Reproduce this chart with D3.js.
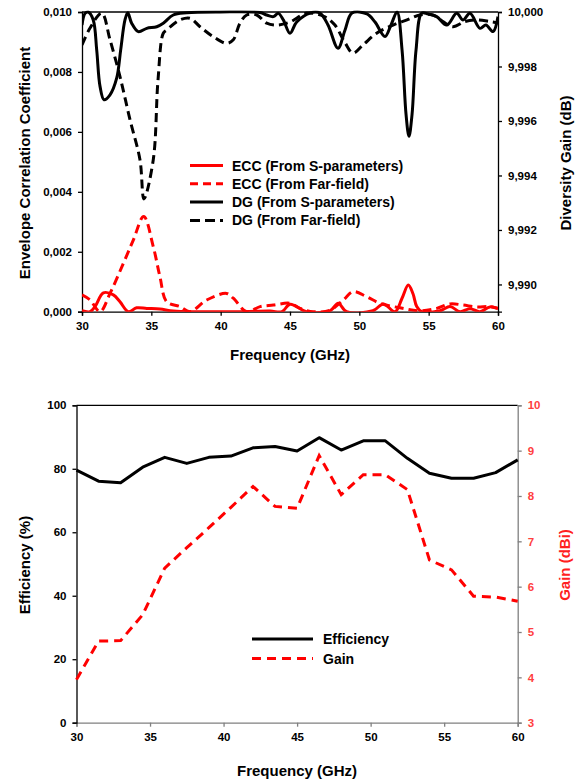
<!DOCTYPE html>
<html>
<head>
<meta charset="utf-8">
<script src="https://cdn.jsdelivr.net/npm/d3@7"></script>
<style>
  body { margin: 0; background: #fff; }
  svg { display: block; font-family: "Liberation Sans", Arial, sans-serif; font-weight: bold; }
</style>
</head>
<body>
<svg id="chart" width="577" height="783"></svg>
<script>
// ---- top chart data (frequency in GHz) ----
var eccSFreq = [30, 30.58, 30.94, 31.54, 32.26, 32.74, 33.34, 33.94, 34.67, 35.62, 36.58, 38.51, 41.39, 43.56, 44.42, 45.0, 46.2, 47.88, 48.48, 49.08, 50.98, 51.73, 52.57, 53.08, 53.53, 53.87, 54.14, 54.5, 55.82, 56.54, 57.26, 57.98, 58.7, 59.42, 60];
var eccS = [0.00003, 0.0, 0.00017, 0.00063, 0.00056, 0.00033, 0.0, 0.00013, 0.00011, 0.00009, 0.00002, 0.0, 0.0, 0.00002, 0.0, 0.00025, 0.0, 0.00003, 0.00028, 0.0, 0.00003, 0.00026, 0.0, 0.00045, 0.00089, 0.0006, 0.00017, 0.0, 0.00003, 0.00017, 0.0, 0.0001, 0.0, 0.00016, 0.0001];

var eccFFreq = [30, 30.58, 31.3, 32.02, 32.98, 33.7, 34.45, 35.14, 35.62, 36.11, 37.07, 37.79, 38.99, 40.43, 40.91, 41.88, 42.84, 43.8, 45.0, 45.72, 46.68, 47.88, 48.84, 49.56, 50.53, 51.49, 52.93, 54.37, 55.58, 56.54, 57.5, 58.46, 59.42, 60];
var eccF = [0.00056, 0.00039, 0.0, 0.00061, 0.00161, 0.00239, 0.00318, 0.00217, 0.00117, 0.00033, 0.00017, 0.0, 0.00039, 0.00061, 0.00045, 0.0, 0.00017, 0.00022, 0.00028, 0.00011, 0.0, 0.00005, 0.00039, 0.00067, 0.0005, 0.00028, 0.00013, 0.00003, 0.00011, 0.00026, 0.00022, 0.00016, 0.00017, 0.00011];

var dgSFreq = [30, 30.22, 30.45, 30.81, 31.06, 31.3, 31.59, 32.02, 32.5, 32.79, 33.1, 33.3, 33.58, 34.06, 34.67, 35.39, 35.86, 36.58, 37.55, 39.95, 42.84, 43.32, 43.8, 44.16, 44.52, 45.0, 45.48, 46.44, 47.16, 47.74, 48.46, 48.97, 49.47, 50.55, 51.13, 51.85, 52.28, 52.72, 53.08, 53.37, 53.58, 53.8, 54.09, 54.5, 54.95, 55.58, 56.3, 57.02, 57.48, 57.98, 58.7, 59.13, 59.64, 60];
var dgS = [9.99952, 9.99995, 10.0, 9.99971, 9.99861, 9.99727, 9.99678, 9.99696, 9.99757, 9.99861, 9.99971, 9.99997, 9.99959, 9.99928, 9.9994, 9.99946, 9.99959, 9.99989, 9.99997, 10.0, 9.99998, 9.99989, 9.99983, 9.99995, 9.99971, 9.99922, 9.99963, 9.99996, 9.99996, 9.99952, 9.99867, 9.99934, 9.99996, 9.99993, 9.99963, 9.9991, 9.99952, 10.0, 9.99861, 9.99623, 9.99544, 9.99623, 9.99861, 9.99996, 9.99993, 9.99983, 9.99952, 9.99995, 9.99971, 9.99995, 9.9994, 9.99952, 9.99928, 9.99983];

var dgFFreq = [30, 30.58, 31.42, 32.02, 32.74, 33.46, 34.18, 34.47, 35.14, 35.48, 35.86, 36.11, 37.07, 37.79, 38.51, 39.45, 40.43, 40.91, 41.39, 41.88, 42.6, 43.32, 44.04, 45.0, 46.23, 47.52, 48.24, 48.97, 49.54, 50.26, 51.27, 52.43, 53.44, 54.37, 55.31, 56.03, 56.75, 57.62, 58.48, 59.42, 60];
var dgF = [9.99879, 9.99941, 9.99996, 9.99898, 9.99763, 9.99605, 9.99458, 9.99314, 9.99458, 9.99749, 9.99922, 9.99934, 9.99971, 9.99977, 9.99946, 9.9991, 9.99885, 9.99898, 9.99959, 9.99989, 9.99989, 9.99959, 9.99952, 9.99963, 9.99996, 9.99982, 9.99952, 9.99887, 9.99849, 9.99879, 9.99923, 9.99952, 9.99971, 9.99989, 9.99989, 9.99965, 9.99946, 9.99965, 9.99971, 9.99965, 9.9996];

var freqTicks = [30, 35, 40, 45, 50, 55, 60];
var eccTicks = [0, 0.002, 0.004, 0.006, 0.008, 0.010];
var dgTicks = [9.990, 9.992, 9.994, 9.996, 9.998, 10.000];
var topLegend = ["ECC (From S-parameters)", "ECC (From Far-field)", "DG (From S-parameters)", "DG (From Far-field)"];

// ---- bottom chart data ----
var effFreq = [30, 31.5, 33, 34.5, 36, 37.5, 39, 40.5, 42, 43.5, 45, 46.5, 48, 49.5, 51, 52.5, 54, 55.5, 57, 58.5, 60];
var efficiency = [79.6, 76.1, 75.6, 80.5, 83.6, 81.7, 83.6, 84.0, 86.6, 87.0, 85.6, 89.8, 85.9, 88.8, 88.8, 83.3, 78.6, 77.0, 77.0, 78.8, 82.8];
var gain = [3.95, 4.8, 4.81, 5.38, 6.41, 6.86, 7.3, 7.75, 8.21, 7.77, 7.73, 8.89, 8.03, 8.47, 8.47, 8.14, 6.59, 6.37, 5.79, 5.77, 5.68];
var effTicks = [0, 20, 40, 60, 80, 100];
var gainTicks = [3, 4, 5, 6, 7, 8, 9, 10];
var bottomLegend = ["Efficiency", "Gain"];

var svg = d3.select("#chart");
var comma = function(f) { return function(d) { return d3.format(f)(d).replace(".", ","); }; };

function styleAxis(g, color, textColor) {
  g.select(".domain").attr("stroke", color).attr("stroke-width", 1.3);
  g.selectAll(".tick line").attr("stroke", color).attr("stroke-width", 1.3);
  g.selectAll(".tick text").attr("fill", textColor).style("font-size", "11.5px").style("font-weight", "bold").style("font-family", "Liberation Sans, Arial, sans-serif");
}

// ================= TOP =================
var t = {left: 82, right: 498, top: 12, bottom: 311.7};
var x1 = d3.scaleLinear().domain([30, 60]).range([t.left, t.right]);
var yEcc = d3.scaleLinear().domain([0, 0.010]).range([t.bottom, t.top]);
var yDg = d3.scaleLinear().domain([9.989, 10.000]).range([t.bottom, t.top]);

svg.append("clipPath").attr("id", "clipTop").append("rect")
  .attr("x", t.left).attr("y", t.top - 1.5).attr("width", t.right - t.left).attr("height", t.bottom - t.top + 1.5);

svg.append("line").attr("x1", t.left).attr("x2", t.right).attr("y1", t.top).attr("y2", t.top)
  .attr("stroke", "#000").attr("stroke-width", 1.3);

var gx1 = svg.append("g").attr("transform", "translate(0," + t.bottom + ")")
  .call(d3.axisBottom(x1).tickValues(freqTicks).tickSize(4).tickPadding(6).tickFormat(d3.format("d")));
styleAxis(gx1, "#000", "#000");
var gy1 = svg.append("g").attr("transform", "translate(" + t.left + ",0)")
  .call(d3.axisLeft(yEcc).tickValues(eccTicks).tickSize(4).tickPadding(6).tickFormat(comma(".3f")));
styleAxis(gy1, "#000", "#000");
var gy1r = svg.append("g").attr("transform", "translate(" + t.right + ",0)")
  .call(d3.axisRight(yDg).tickValues(dgTicks).tickSize(4).tickPadding(6).tickFormat(comma(".3f")));
styleAxis(gy1r, "#000", "#000");

function curveLine(xs, ys, xScale, yScale) {
  var pts = xs.map(function(d, i) { return [d, ys[i]]; });
  return d3.line().x(function(d) { return xScale(d[0]); }).y(function(d) { return yScale(d[1]); })
    .curve(d3.curveCatmullRom.alpha(0.5))(pts);
}

var topSeries = [
  {x: dgFFreq, y: dgF, scale: yDg, color: "#000", dash: "9,5"},
  {x: dgSFreq, y: dgS, scale: yDg, color: "#000", dash: null},
  {x: eccFFreq, y: eccF, scale: yEcc, color: "#ff0000", dash: "9,5"},
  {x: eccSFreq, y: eccS, scale: yEcc, color: "#ff0000", dash: null}
];
topSeries.forEach(function(s) {
  svg.append("path").attr("clip-path", "url(#clipTop)")
    .attr("d", curveLine(s.x, s.y, x1, s.scale))
    .attr("fill", "none").attr("stroke", s.color).attr("stroke-width", 3)
    .attr("stroke-dasharray", s.dash);
});

var topLegendStyle = [["#ff0000", null], ["#ff0000", "8,5"], ["#000", null], ["#000", "10,5"]];
var lg1 = svg.append("g");
topLegend.forEach(function(name, i) {
  var yy = 165.5 + i * 18.3;
  lg1.append("line").attr("x1", 190).attr("x2", 223).attr("y1", yy).attr("y2", yy)
    .attr("stroke", topLegendStyle[i][0]).attr("stroke-width", 3).attr("stroke-dasharray", topLegendStyle[i][1]);
  lg1.append("text").attr("x", 232).attr("y", yy + 5).style("font-size", "14px").text(name);
});

svg.append("text").attr("x", 290).attr("y", 360).attr("text-anchor", "middle").style("font-size", "15px").text("Frequency (GHz)");
svg.append("text").attr("transform", "translate(30,163) rotate(-90)").attr("text-anchor", "middle").style("font-size", "15px").text("Envelope Correlation Coefficient");
svg.append("text").attr("transform", "translate(571,163) rotate(-90)").attr("text-anchor", "middle").style("font-size", "15px").text("Diversity Gain (dB)");

// ================= BOTTOM =================
var b = {left: 76.5, right: 517.7, top: 405.3, bottom: 722.7};
var x2 = d3.scaleLinear().domain([30, 60]).range([b.left, b.right]);
var yEff = d3.scaleLinear().domain([0, 100]).range([b.bottom, b.top]);
var yGain = d3.scaleLinear().domain([3, 10]).range([b.bottom, b.top]);

svg.append("line").attr("x1", b.left).attr("x2", b.right).attr("y1", b.top).attr("y2", b.top)
  .attr("stroke", "#000").attr("stroke-width", 1.3);

var gx2 = svg.append("g").attr("transform", "translate(0," + b.bottom + ")")
  .call(d3.axisBottom(x2).tickValues(freqTicks).tickSize(4).tickPadding(6).tickFormat(d3.format("d")));
styleAxis(gx2, "#808080", "#000");
var gy2r = svg.append("g").attr("transform", "translate(" + b.right + ",0)")
  .call(d3.axisRight(yGain).tickValues(gainTicks).tickSize(4).tickPadding(6).tickFormat(d3.format("d")));
styleAxis(gy2r, "#808080", "#ff4040");
var gy2 = svg.append("g").attr("transform", "translate(" + b.left + ",0)")
  .call(d3.axisLeft(yEff).tickValues(effTicks).tickSize(4).tickPadding(6).tickFormat(d3.format("d")));
styleAxis(gy2, "#000", "#000");

svg.append("path")
  .datum(effFreq)
  .attr("d", d3.line().x(function(d) { return x2(d); }).y(function(d, i) { return yEff(efficiency[i]); }))
  .attr("fill", "none").attr("stroke", "#000").attr("stroke-width", 3).attr("stroke-linejoin", "round");
svg.append("path")
  .datum(effFreq)
  .attr("d", d3.line().x(function(d) { return x2(d); }).y(function(d, i) { return yGain(gain[i]); }))
  .attr("fill", "none").attr("stroke", "#ff0000").attr("stroke-width", 3).attr("stroke-dasharray", "9,6");

var lg2 = svg.append("g");
bottomLegend.forEach(function(name, i) {
  var yy = 639 + i * 19.5;
  lg2.append("line").attr("x1", 252).attr("x2", 313).attr("y1", yy).attr("y2", yy)
    .attr("stroke", i == 0 ? "#000" : "#ff0000").attr("stroke-width", 3).attr("stroke-dasharray", i == 0 ? null : "9,6");
  lg2.append("text").attr("x", 323).attr("y", yy + 5).style("font-size", "14px").text(name);
});

svg.append("text").attr("x", 297).attr("y", 776).attr("text-anchor", "middle").style("font-size", "15px").text("Frequency (GHz)");
svg.append("text").attr("transform", "translate(30,565) rotate(-90)").attr("text-anchor", "middle").style("font-size", "15px").text("Efficiency (%)");
svg.append("text").attr("transform", "translate(570,565) rotate(-90)").attr("text-anchor", "middle").attr("fill", "#ff2020").style("font-size", "15px").text("Gain (dBi)");
</script>
</body>
</html>
